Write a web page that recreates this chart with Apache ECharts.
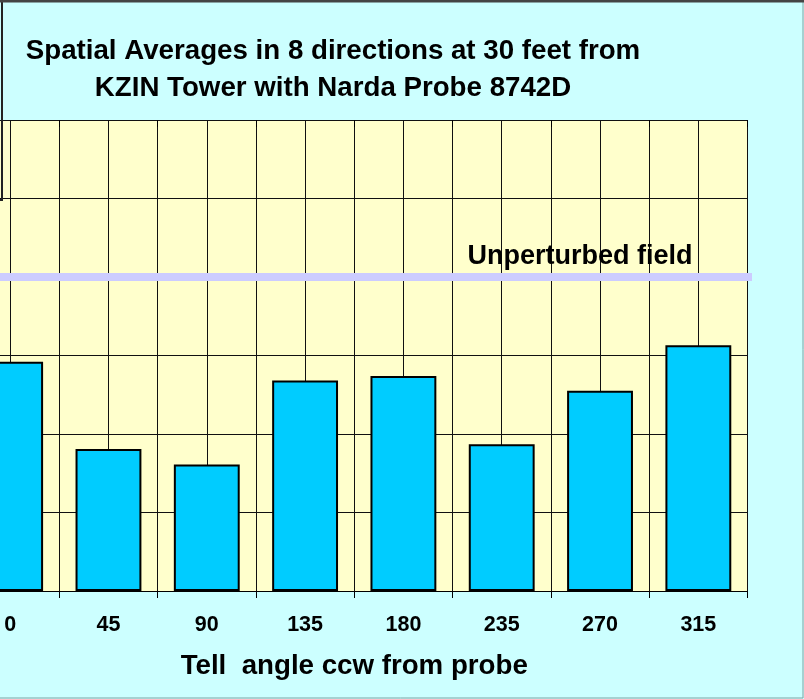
<!DOCTYPE html>
<html>
<head>
<meta charset="utf-8">
<title>Spatial Averages - KZIN Tower</title>
<script src="https://cdn.jsdelivr.net/npm/echarts@6/dist/echarts.min.js"></script>
<style>
  html, body { margin: 0; padding: 0; background: #CCFFFF; overflow: hidden; }
  #wrap { position: relative; width: 804px; height: 699px; overflow: hidden; }
  /* the chart runs past the left edge of the frame */
  #chart { position: absolute; left: -39px; top: 0; width: 843px; height: 699px; }
</style>
</head>
<body>
<div id="wrap"><div id="chart"></div></div>
<script>
// Tell angle (degrees, counter-clockwise from probe)
const angles = ['0', '45', '90', '135', '180', '235', '270', '315'];
// Spatial average field strength at each angle
const spatialAverages = [2.92, 1.81, 1.61, 2.68, 2.74, 1.87, 2.55, 3.13];
// Reference level of the unperturbed field
const unperturbedField = 4;
// Horizontal extent of the reference line, in half-category units
const fieldLineSpan = [-1, 16.1];
// Value-axis range and step
const yMin = 0, yMax = 6, yStep = 1;

const FONT = "'Liberation Sans', Arial, sans-serif";
const SHIFT = 39; // horizontal offset of the canvas inside the frame
const chart = echarts.init(document.getElementById('chart'));

chart.setOption({
  backgroundColor: '#CCFFFF',
  animation: false,
  title: {
    text: 'Spatial Averages in 8 directions at 30 feet from\nKZIN Tower with Narda Probe 8742D',
    left: 333 + SHIFT,
    top: 33,
    textAlign: 'center',
    padding: 0,
    textStyle: {
      fontFamily: FONT, fontWeight: 'bold', fontSize: 27.7,
      lineHeight: 37, color: '#000'
    }
  },
  grid: {
    left: 0, right: 56.5, top: 120, bottom: 108,
    show: true, backgroundColor: '#FFFFCC', borderWidth: 0
  },
  xAxis: [
    {
      type: 'category',
      data: angles,
      name: 'Tell  angle ccw from probe',
      nameLocation: 'middle',
      nameGap: 61,
      nameTextStyle: { fontFamily: FONT, fontWeight: 'bold', fontSize: 27.7, color: '#000' },
      axisLine: { show: true, lineStyle: { color: '#000', width: 1 } },
      axisTick: { show: true, length: 7, lineStyle: { color: '#000' } },
      axisLabel: {
        interval: 0, margin: 23,
        fontFamily: FONT, fontWeight: 'bold', fontSize: 21.5, color: '#000'
      },
      splitLine: { show: false }
    },
    {
      // half-category grid for the vertical lines
      type: 'value', min: 0, max: 16, interval: 1,
      show: true,
      axisLine: { show: false }, axisTick: { show: false }, axisLabel: { show: false },
      splitLine: { show: true, lineStyle: { color: '#111', width: 1 } }
    },
    {
      // inner half of the crossing tick marks
      type: 'category', data: angles,
      axisLine: { show: false }, axisLabel: { show: false },
      axisTick: { show: true, inside: true, length: 7, lineStyle: { color: '#000' } },
      splitLine: { show: false }
    }
  ],
  yAxis: {
    type: 'value', min: yMin, max: yMax, interval: yStep,
    axisLine: { show: false }, axisTick: { show: false }, axisLabel: { show: false },
    splitLine: { show: true, lineStyle: { color: '#111', width: 1 } }
  },
  series: [
    {
      type: 'line',
      xAxisIndex: 1,
      data: fieldLineSpan.map(x => [x, unperturbedField]),
      clip: false,
      symbol: 'none',
      z: 3,
      lineStyle: { color: '#CCCCFF', width: 8, cap: 'round' },
      markLine: {
        silent: true,
        symbol: 'none',
        lineStyle: { color: 'rgba(0,0,0,0)', width: 1 },
        label: {
          show: true,
          position: 'insideEndTop',
          distance: [55, 7],
          formatter: 'Unperturbed field',
          fontFamily: FONT, fontWeight: 'bold', fontSize: 27, color: '#000'
        },
        data: [{ yAxis: unperturbedField }]
      }
    },
    {
      type: 'bar',
      xAxisIndex: 0,
      data: spatialAverages,
      barWidth: '67%',
      z: 4,
      itemStyle: { color: '#00CCFF', borderColor: '#000', borderWidth: 2 }
    }
  ],
  graphic: [
    {
      // outer chart frame
      type: 'rect', silent: true, z: 100,
      shape: { x: SHIFT - 2, y: 1, width: 805, height: 697 },
      style: { fill: 'none', stroke: '#7FA3A3', lineWidth: 1 }
    },
    {
      type: 'line', silent: true, z: 101,
      shape: { x1: SHIFT, y1: 1, x2: SHIFT + 804, y2: 1 },
      style: { stroke: '#444', lineWidth: 3 }
    },
    {
      // edge of the neighbouring box at the upper left
      type: 'rect', silent: true, z: 100,
      shape: { x: SHIFT - 60, y: -5, width: 62, height: 205 },
      style: { fill: 'none', stroke: '#222', lineWidth: 2 }
    }
  ]
});
</script>
</body>
</html>
